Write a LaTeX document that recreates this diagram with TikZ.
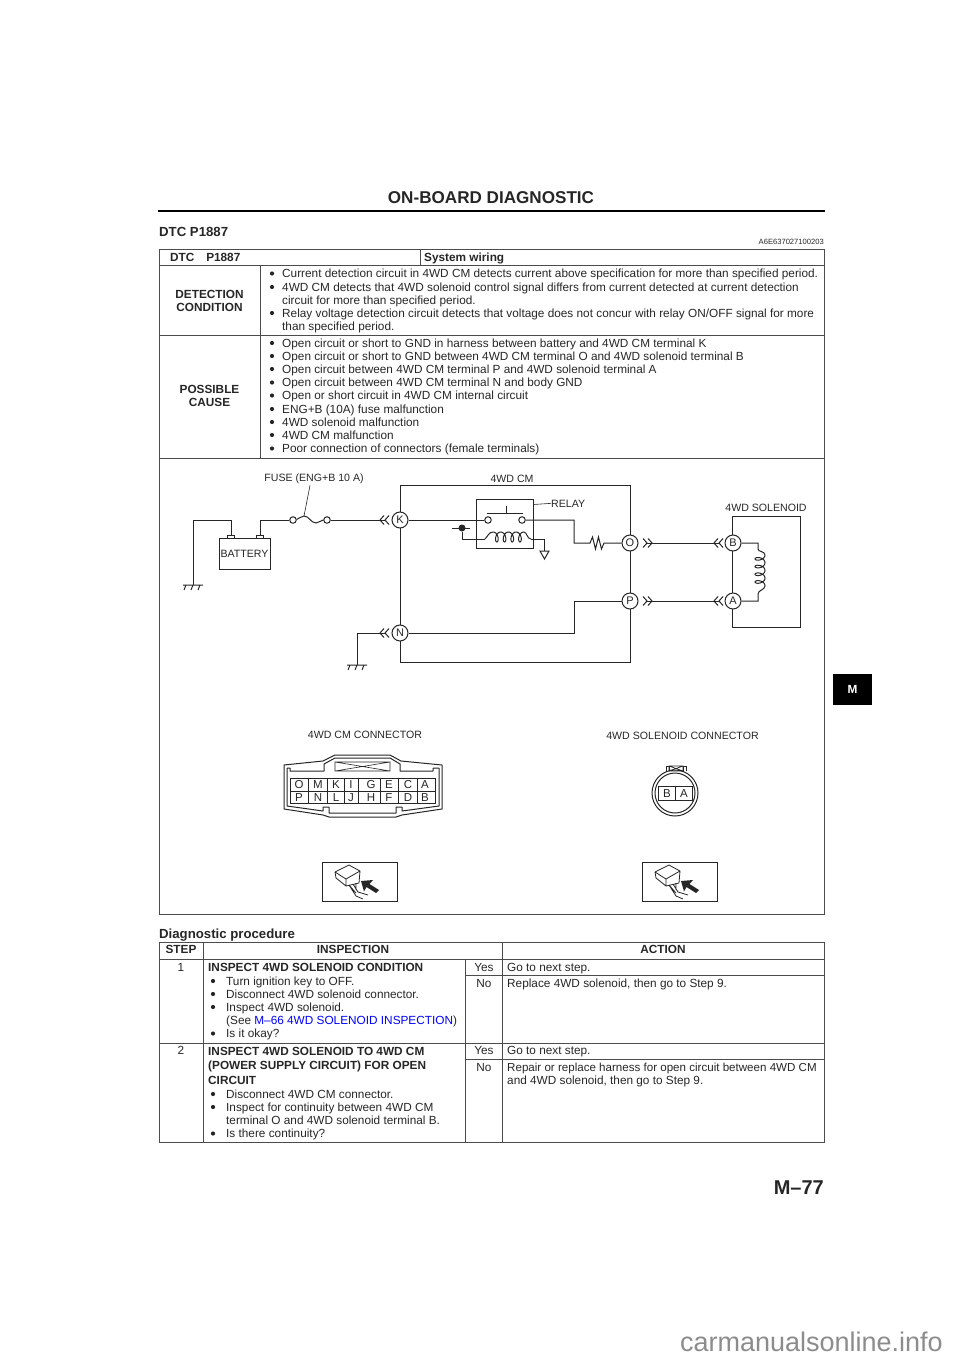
\documentclass[tikz,border=0pt]{standalone}
\usepackage{fontspec}
\setmainfont{Liberation Sans}
\usetikzlibrary{positioning}
\definecolor{inkgray}{gray}{0.15}
\definecolor{rulegray}{gray}{0.3}
\tikzset{
  txt/.style={anchor=base west,inner sep=0pt,text=inkgray,font=\fontsize{11.8}{13}\selectfont},
  ctr/.style={txt,anchor=base},
  blt/.style={circle,fill=inkgray,minimum size=4.2pt,inner sep=0pt,yshift=4pt},
  hdr/.style={ctr,font=\fontsize{11.8}{13}\selectfont\bfseries},
  bhd/.style={txt,font=\fontsize{11.8}{13}\selectfont\bfseries},
  lab/.style={ctr,font=\fontsize{10.6}{12}\selectfont},
  pin/.style={draw=inkgray,circle,fill=white,line width=1pt,minimum size=16pt,inner sep=0pt,text=inkgray,font=\fontsize{11}{12}\selectfont},
  hole/.style={draw=inkgray,circle,fill=white,line width=1pt,minimum size=6.5pt,inner sep=0pt},
  cell/.style={inner sep=0pt,text=inkgray,font=\fontsize{11.5}{12}\selectfont},
  wire/.style={draw=inkgray,line width=1pt},
  tbl/.style={draw=rulegray,line width=1pt},
  chev/.pic={\draw[wire] (4,-4.5) -- (0,0) -- (4,4.5) (9,-4.5) -- (5,0) -- (9,4.5);},
  gnd/.pic={\draw[wire] (-10,0) -- (10,0) (-7,0) -- (-9,5) (0,0) -- (-2,5) (7,0) -- (5,5);}
}
% little connector with the view arrow, #1 and #2 = corner of the frame
\newcommand{\viewbox}[3]{
  \begin{scope}[shift={(#1,#2)}]
    \node[draw=inkgray,line width=1pt,minimum width=75pt,minimum height=39pt,inner sep=0pt,anchor=north west] (#3) at (0,0) {};
    \draw[wire,line join=round,line width=.8pt] (13,10) -- (27,3) -- (38,9) -- (24,17) -- cycle
      (13,10) -- (14,16) -- (24,24) -- (37,21) -- (38,9) (24,17) -- (24,24)
      (27,23) -- (34,34) -- (41,37) (31,22) -- (36,30) -- (46,33) (34,21) -- (34,28) (27,23) -- (34,31);
    \fill[inkgray] (39,19) -- (51,18) -- (47.5,22) -- (57,28) -- (54,31) -- (44.5,25) -- (42,29.5) -- cycle;
  \end{scope}
}
\begin{document}
\begin{tikzpicture}[x=1pt,y=-1pt]
  \useasboundingbox (0,0) rectangle (960,1359);
  % page head
  \node[ctr,font=\fontsize{17.1}{18}\selectfont\bfseries] (title) at (491,204) {ON-BOARD DIAGNOSTIC};
  \draw[draw=black,line width=2.2pt] (158,211) -- (824.5,211);
  \node[bhd,font=\fontsize{13.2}{15}\selectfont\bfseries] (dtchead) at (159,236) {DTC P1887};
  \node[txt,anchor=base east,font=\fontsize{7.6}{9}\selectfont] (code) at (824,244) {A6E637027100203};
  % first table
  \draw[tbl] (159,249) rectangle (824,914);
  \draw[tbl] (159,265) -- (824,265) (159,335) -- (824,335) (159,458) -- (824,458);
  \draw[tbl] (260,265) -- (260,458) (420,249) -- (420,265);
  \node[bhd] (dtccell) at (170,261) {DTC\quad P1887};
  \node[bhd] (wiring) at (424,261) {System wiring};
  \node[hdr] (det1) at (209.5,298) {DETECTION};
  \node[hdr] (det2) at (209.5,311) {CONDITION};
  \node[hdr] (pos1) at (209.5,393) {POSSIBLE};
  \node[hdr] (pos2) at (209.5,406) {CAUSE};
  \foreach \yy/\ttt [count=\i] in {
    277.5/{Current detection circuit in 4WD CM detects current above specification for more than specified period.},
    291/{4WD CM detects that 4WD solenoid control signal differs from current detected at current detection},
    304/{circuit for more than specified period.},
    317/{Relay voltage detection circuit detects that voltage does not concur with relay ON/OFF signal for more},
    330.5/{than specified period.},
    347/{Open circuit or short to GND in harness between battery and 4WD CM terminal K},
    360/{Open circuit or short to GND between 4WD CM terminal O and 4WD solenoid terminal B},
    373/{Open circuit between 4WD CM terminal P and 4WD solenoid terminal A},
    386.5/{Open circuit between 4WD CM terminal N and body GND},
    399.5/{Open or short circuit in 4WD CM internal circuit},
    413/{ENG+B (10A) fuse malfunction},
    426/{4WD solenoid malfunction},
    439/{4WD CM malfunction},
    452.5/{Poor connection of connectors (female terminals)}}
    {\node[txt] (cond\i) at (282,\yy) {\ttt};}
  \foreach \yy [count=\i] in {277.5,291,317,347,360,373,386.5,399.5,413,426,439,452.5}
    {\node[blt] (dot\i) at (272,\yy) {};}
  % wiring
  \node[draw=inkgray,line width=1pt,minimum width=51pt,minimum height=31pt,inner sep=0pt,text=inkgray,font=\fontsize{10.6}{12}\selectfont] (batt) at (244.5,553.5) {BATTERY};
  \draw[wire] (227,538) |- (234,535) -- (234,538) (256,538) |- (263,535) -- (263,538);
  \coordinate (battm) at (231,535);
  \coordinate (battp) at (260,535);
  \coordinate (gndl) at (193,585);
  \coordinate (gndn) at (357,665);
  \draw[wire] (battm) |- (gndl |- 0,520) -- (gndl);
  \pic at (gndl) {gnd};
  \node[hole] (fusea) at (293,520) {};
  \node[hole] (fuseb) at (327,520) {};
  \draw[wire] (battp) |- (fusea);
  \draw[wire] (fusea) .. controls (299,519) and (301,516) .. (304,516) .. controls (309,516) and (311,523) .. (316,523) .. controls (319,523) and (321,520) .. (fuseb);
  \coordinate (fusetip) at (304,516);
  \node[lab] (fusetxt) at (314,481) {FUSE (ENG+B 10 A)};
  \draw[wire,line width=.6pt] (fusetxt.south) ++(-4,2) -- (fusetip);
  \node[lab] (cmtxt) at (512,482) {4WD CM};
  \node[lab] (soltxt) at (766,511) {4WD SOLENOID};
  % control module
  \draw[wire] (400,485) rectangle (630,662);
  \node[draw=inkgray,line width=1pt,minimum width=57pt,minimum height=49pt,inner sep=0pt] (relay) at (504.5,523.5) {};
  \node[lab,anchor=base west] (relaytxt) at (551,507) {RELAY};
  \draw[wire,line width=.6pt] (relay.north east) ++(0,6) -- (relaytxt.west);
  \node[hole] (cta) at (488,520) {};
  \node[hole] (ctb) at (522,520) {};
  \draw[wire] (487,513) -- (523,513) (506,513) -- (506,506);
  \draw[wire] (485,539) .. controls (488,536) and (489,532) .. (493,532)
    plot[smooth,domain=0:1440,samples=97] ({493+7.7*\x/360+3*sin(\x)},{537-5*cos(\x)})
    .. controls (527,532) and (527,539) .. (531,539);
  \node[circle,fill=inkgray,minimum size=7pt,inner sep=0pt] (feed) at (462,528) {};
  \draw[wire] (452,528) -- (470,528) (feed) |- (485,539);
  \coordinate (coilb) at (531,539);
  \coordinate (tri) at (544.5,551);
  \draw[wire] (coilb) -| (tri);
  \draw[wire] (540,551) -- (549,551) -- (544.5,559) -- cycle;
  % connector pins
  \node[pin] (K) at (400,520) {K};
  \node[pin] (N) at (400,633) {N};
  \node[pin] (O) at (630,543) {O};
  \node[pin] (P) at (630,601) {P};
  % solenoid
  \draw[wire] (732,516) rectangle (800,627);
  \node[pin] (B) at (733,543) {B};
  \node[pin] (A) at (733,601) {A};
  \coordinate (kend) at (385,520);
  \coordinate (nend) at (385,633);
  \coordinate (oend) at (647,543);
  \coordinate (pend) at (647,601);
  \coordinate (bend) at (719,543);
  \coordinate (aend) at (719,601);
  \draw[wire] (fuseb) -- (kend);
  \draw[wire] (nend) -| (gndn);
  \pic at (gndn) {gnd};
  \pic at (380,520) {chev};
  \pic at (380,633) {chev};
  \pic at (714,543) {chev};
  \pic at (714,601) {chev};
  \pic[xscale=-1] at (652,543) {chev};
  \pic[xscale=-1] at (652,601) {chev};
  \draw[wire] (oend) -- (bend) (pend) -- (aend);
  \draw[wire] (K) -- (cta);
  \draw[wire] (ctb) -| (574,543) -- (590,543) -- (592.5,537) -- (595.5,549) -- (598.5,537) -- (601.5,549) -- (604,543) -- (O);
  \draw[wire] (P) -| (574,633) -- (N);
  \draw[wire] (B) -- (758,543) -- (758,549) .. controls (758,552) and (765,551) .. (765,555)
    plot[smooth,domain=0:1440,samples=97] ({760+5*cos(\x)},{555+7.7*\x/360+3*sin(\x)})
    .. controls (765,590) and (758,590) .. (758,594) -- (758,601) -- (A);
  % connectors
  \node[lab] (cmcon) at (365,738) {4WD CM CONNECTOR};
  \node[lab] (solcon) at (682.5,739) {4WD SOLENOID CONNECTOR};
  \draw[wire,line join=round] (284,765) -- (323,761) -- (335,755) -- (390,755) -- (401,761) -- (442,765) -- (442,809) -- (402,815) -- (396,817) -- (329,817) -- (323,815) -- (284,809) -- cycle;
  \draw[wire,line join=round] (287,768) -- (287,806) -- (323,811) -- (323,807) -- (329,807) -- (329,813) -- (396,813) -- (396,807) -- (402,807) -- (402,811) -- (439,806) -- (439,768) -- (433,768)
    (287,768) -- (290,768) -- (290,771) -- (324,771) -- (324,764) -- (335,758) -- (390,758) -- (400,764) -- (400,771) -- (433,771) -- (433,768);
  \draw[wire,line width=.6pt] (335,762) rectangle (390,771) (335,762) -- (390,771) (335,771) -- (390,762);
  \draw[wire] (290,778) rectangle (435,803) (290,791) -- (435,791);
  \foreach \xx in {308,327,344,358,380,398,417}
    {\draw[wire] (\xx,778) -- (\xx,803);}
  \foreach \xx/\up/\low [count=\i] in {299/O/P,318/M/N,336/K/L,351/I/J,371/G/H,389/E/F,408/C/D,425/A/B}
    {\node[cell] (up\i) at (\xx,785) {\up};
     \node[cell] (low\i) at (\xx,798) {\low};}
  \node[draw=inkgray,circle,line width=1pt,minimum size=46pt,inner sep=0pt] (solouter) at (675,793) {};
  \node[draw=inkgray,circle,line width=1pt,minimum size=40pt,inner sep=0pt] (solinner) at (675,793) {};
  \node[draw=inkgray,fill=white,line width=1pt,minimum width=17pt,minimum height=14pt,inner sep=0pt,text=inkgray,font=\fontsize{11.5}{12}\selectfont] (solB) at (667,793.5) {B};
  \node[draw=inkgray,fill=white,line width=1pt,minimum width=17pt,minimum height=14pt,inner sep=0pt,text=inkgray,font=\fontsize{11.5}{12}\selectfont] (solA) at (684,793.5) {A};
  \draw[wire] (666,771) -- (666,766) -- (669,766) -- (669,771) (683,771) -- (683,766) -- (686,766) -- (686,771);
  \draw[wire,line width=.7pt] (669,766) rectangle (683,771) (669,766) -- (683,771) (669,771) -- (683,766);
  \viewbox{322}{862}{viewa}
  \viewbox{642}{862}{viewb}
  % second table
  \node[bhd,font=\fontsize{13.2}{15}\selectfont\bfseries] (diag) at (159,938) {Diagnostic procedure};
  \draw[tbl] (159,942) rectangle (824,1142);
  \draw[tbl] (159,959) -- (824,959) (159,1043) -- (824,1043) (465,975) -- (824,975) (465,1059) -- (824,1059);
  \draw[tbl] (203,942) -- (203,1142) (502,942) -- (502,1142) (465,959) -- (465,1142);
  \node[hdr] (step) at (181,953.5) {STEP};
  \node[hdr] (insp) at (353,953.5) {INSPECTION};
  \node[hdr] (act) at (663,953.5) {ACTION};
  \node[ctr] (sn1) at (181,971) {1};
  \node[ctr] (sn2) at (181,1054.5) {2};
  \foreach \yy/\ttt [count=\i] in {971/INSPECT 4WD SOLENOID CONDITION,1055/INSPECT 4WD SOLENOID TO 4WD CM,1069.5/(POWER SUPPLY CIRCUIT) FOR OPEN,1084/CIRCUIT}
    {\node[bhd] (ih\i) at (208,\yy) {\ttt};}
  \foreach \yy/\ttt [count=\i] in {
    985/Turn ignition key to OFF.,
    998/Disconnect 4WD solenoid connector.,
    1011/Inspect 4WD solenoid.,
    1024/{(See \textcolor{blue}{M–66 4WD SOLENOID INSPECTION})},
    1037.5/Is it okay?,
    1098/Disconnect 4WD CM connector.,
    1111/Inspect for continuity between 4WD CM,
    1124/terminal O and 4WD solenoid terminal B.,
    1137.5/Is there continuity?}
    {\node[txt] (ins\i) at (226,\yy) {\ttt};}
  \foreach \yy [count=\i] in {985,998,1011,1037.5,1098,1111,1137.5}
    {\node[blt] (tic\i) at (213,\yy) {};}
  \foreach \yy/\ttt [count=\i] in {971/Yes,987.5/No,1054.5/Yes,1071/No}
    {\node[ctr] (ans\i) at (484,\yy) {\ttt};}
  \foreach \yy/\ttt [count=\i] in {
    971/Go to next step.,
    987.5/{Replace 4WD solenoid, then go to Step 9.},
    1054.5/Go to next step.,
    1071/{\fontsize{11.58}{13}\selectfont Repair or replace harness for open circuit between 4WD CM},
    1084.5/{and 4WD solenoid, then go to Step 9.}}
    {\node[txt] (res\i) at (507,\yy) {\ttt};}
  % tab and page number
  \node[fill=black,minimum width=39pt,minimum height=31pt,inner sep=0pt,text=white,font=\fontsize{11.8}{13}\selectfont\bfseries] (tab) at (852.5,689.5) {M};
  \node[txt,anchor=base east,font=\fontsize{20}{22}\selectfont\bfseries] (page) at (824,1194) {M–77};
  \node[txt,anchor=base east,text=black!45,font=\fontsize{27}{29}\selectfont] (site) at (943,1351) {carmanualsonline.info};
\end{tikzpicture}
\end{document}
